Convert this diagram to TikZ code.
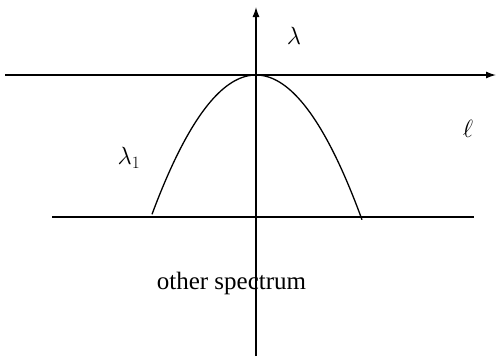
\documentclass[tikz,border=0pt]{standalone}
\usepackage{fontspec}
\setmainfont{Liberation Serif}
\usetikzlibrary{arrows.meta}
\begin{document}
\begin{tikzpicture}[x=1pt,y=-1pt,line width=1.3pt,
  lbl/.style={inner sep=0pt,font=\fontsize{25}{30}\selectfont},
  axis/.style={-{Latex[length=10pt,width=7pt]}}]
\useasboundingbox (0,0) rectangle (496,360);
\coordinate (vb) at (256,356);
\coordinate (vt) at (256,7);
\coordinate (hl) at (5,75);
\coordinate (hr) at (496,75);
\coordinate (ll) at (52,217);
\coordinate (lr) at (474,217);
\draw[axis] (vb) -- (vt);
\draw[axis] (hl) -- (hr);
\draw (ll) -- (lr);
\draw[domain=-104:106,samples=80,smooth] plot ({256+\x},{75+142*(\x/105)^2});
\node[lbl] (lam) at (294,36) {$\lambda$};
\node[lbl] (ell) at (468,129) {$\ell$};
\node[lbl] (lam1) at (129,158) {$\lambda_1$};
\node[lbl] (other) at (231.5,283) {other spectrum};
\end{tikzpicture}
\end{document}
